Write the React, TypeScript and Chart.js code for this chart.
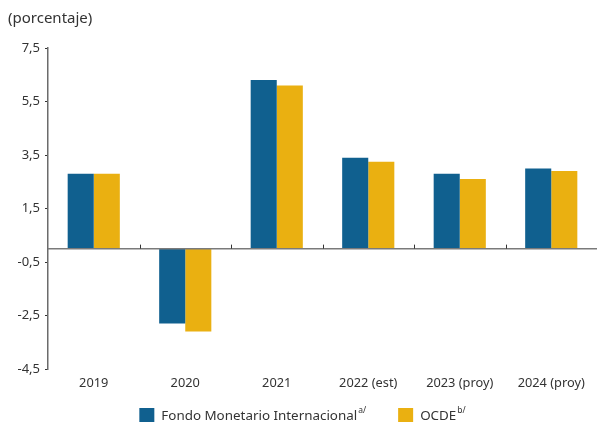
import React, { useEffect, useRef } from "react";
import { Chart, registerables } from "chart.js";

Chart.register(...registerables);

const categories = ["2019", "2020", "2021", "2022 (est)", "2023 (proy)", "2024 (proy)"];
const imfValues = [2.8, -2.8, 6.3, 3.4, 2.8, 3.0];
const oecdValues = [2.8, -3.1, 6.1, 3.25, 2.6, 2.9];
const seriesNames = ["Fondo Monetario Internacional", "OCDE"];
const seriesNotes = ["a/", "b/"];
const seriesColors = ["#10608F", "#EAB011"];
const yMin = -4.5;
const yMax = 7.5;
const yStep = 2;

const FONT = "'Noto Sans', 'Open Sans', sans-serif";

const zeroLinePlugin = {
  id: "zeroLine",
  afterDatasetsDraw(chart: any) {
    const { ctx, chartArea, scales } = chart;
    const y0 = scales.y.getPixelForValue(0);
    ctx.save();
    ctx.strokeStyle = "#7a7a7a";
    ctx.lineWidth = 1.5;
    ctx.beginPath();
    ctx.moveTo(chartArea.left, y0);
    ctx.lineTo(chartArea.right, y0);
    ctx.stroke();
    ctx.strokeStyle = "#333";
    ctx.lineWidth = 1;
    for (let i = 0; i < categories.length - 1; i++) {
      const xb = Math.round((scales.x.getPixelForValue(i) + scales.x.getPixelForValue(i + 1)) / 2) + 0.5;
      ctx.beginPath();
      ctx.moveTo(xb, y0 - 4);
      ctx.lineTo(xb, y0);
      ctx.stroke();
    }
    ctx.restore();
  },
};

const legendPlugin = {
  id: "noteLegend",
  afterDraw(chart: any) {
    const { ctx } = chart;
    const box = 15;
    const gapText = 7;
    const gapItem = 32;
    const mainFont = `13.4px ${FONT}`;
    const supFont = `8.5px ${FONT}`;
    ctx.save();
    const widths = chart.data.datasets.map((ds: any, i: number) => {
      ctx.font = mainFont;
      const w1 = ctx.measureText(ds.label).width;
      ctx.font = supFont;
      const w2 = ctx.measureText(seriesNotes[i]).width;
      return box + gapText + w1 + 1 + w2;
    });
    const total = widths.reduce((a: number, b: number) => a + b, 0) + gapItem * (widths.length - 1);
    let x = (8 + chart.width) / 2 - total / 2;
    const top = 408;
    const mid = 416;
    chart.data.datasets.forEach((ds: any, i: number) => {
      ctx.fillStyle = ds.backgroundColor;
      ctx.fillRect(x, top, box, box);
      let tx = x + box + gapText;
      ctx.fillStyle = "#333";
      ctx.textBaseline = "middle";
      ctx.textAlign = "left";
      ctx.font = mainFont;
      ctx.fillText(ds.label, tx, mid);
      tx += ctx.measureText(ds.label).width + 1;
      ctx.font = supFont;
      ctx.fillText(seriesNotes[i], tx, mid - 5);
      x += widths[i] + gapItem;
    });
    ctx.restore();
  },
};

export default function App() {
  const ref = useRef<HTMLCanvasElement>(null);
  useEffect(() => {
    if (!ref.current) return;
    const chart = new Chart(ref.current, {
      type: "bar",
      data: {
        labels: categories,
        datasets: [
          { label: seriesNames[0], data: imfValues, backgroundColor: seriesColors[0], categoryPercentage: 0.57, barPercentage: 1 },
          { label: seriesNames[1], data: oecdValues, backgroundColor: seriesColors[1], categoryPercentage: 0.57, barPercentage: 1 },
        ],
      },
      options: {
        animation: false,
        responsive: false,
        maintainAspectRatio: false,
        layout: { padding: { left: 8, right: 0, top: 0, bottom: 17 } },
        plugins: {
          title: {
            display: true,
            text: "(porcentaje)",
            align: "start",
            color: "#333",
            font: { family: FONT, size: 15, weight: "normal" },
            padding: { top: 10, bottom: 20 },
          },
          legend: { display: false },
          tooltip: { enabled: false },
        },
        scales: {
          x: {
            grid: { display: false, drawTicks: false },
            border: { display: false },
            ticks: { color: "#333", font: { family: FONT, size: 12.8 }, padding: 7 },
            afterFit(axis: any) {
              axis.height = 36;
            },
          },
          y: {
            min: yMin,
            max: yMax,
            afterBuildTicks(axis: any) {
              const t = [];
              for (let v = yMin; v <= yMax + 1e-9; v += yStep) t.push({ value: v });
              axis.ticks = t;
            },
            afterFit(axis: any) {
              axis.width = 40;
            },
            grid: { drawOnChartArea: false, drawTicks: true, tickLength: 3, color: "#333" },
            border: { display: true, color: "#6b6b6b", width: 1.5 },
            ticks: {
              color: "#333",
              font: { family: FONT, size: 13 },
              padding: 5,
              callback: (v: any) => Number(v).toFixed(1).replace(".", ","),
            },
          },
        },
      },
      plugins: [zeroLinePlugin, legendPlugin],
    });
    return () => chart.destroy();
  }, []);
  return (
    <div style={{ position: "fixed", left: 0, top: 0, width: 597, height: 422, background: "#fff" }}>
      <canvas ref={ref} width={597} height={422} style={{ width: 597, height: 422 }} />
    </div>
  );
}
